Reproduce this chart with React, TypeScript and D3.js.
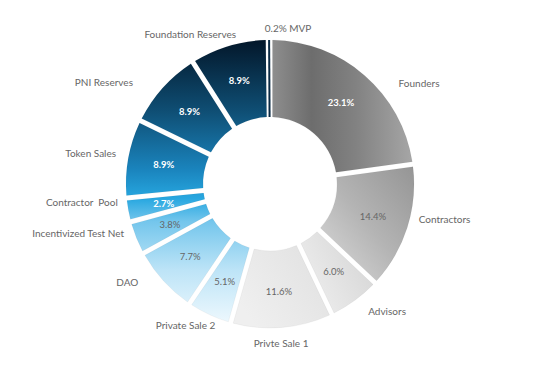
import React from 'react';
import * as d3 from 'd3';

const categories = ['Founders', 'Contractors', 'Advisors', 'Privte Sale 1', 'Private Sale 2', 'DAO', 'Incentivized Test Net', 'Contractor  Pool', 'Token Sales', 'PNI Reserves', 'Foundation Reserves', 'MVP'];
const shares = [23.1, 14.4, 6.0, 11.6, 5.1, 7.7, 3.8, 2.7, 8.9, 8.9, 8.9, 0.2];
const valueLabels = ['23.1%', '14.4%', '6.0%', '11.6%', '5.1%', '7.7%', '3.8%', '2.7%', '8.9%', '8.9%', '8.9%', '0.2%'];
const darkSlices = ['Founders', 'Contractor  Pool', 'Token Sales', 'PNI Reserves', 'Foundation Reserves'];
const blueSlices = ['Private Sale 2', 'DAO', 'Incentivized Test Net', 'Contractor  Pool', 'Token Sales', 'PNI Reserves', 'Foundation Reserves', 'MVP'];

// layout of outside labels: polar angle (deg from top, clockwise) and radius
const labelAngles = [55.9, 101.3, 137.4, 176, 211, 235.6, 255.7, 264.5, 279.8, 301.6, 332, 6.6];
const labelRadii = [180, 178, 173, 159, 164, 173, 198, 189, 182, 195, 170, 157];

const W = 554, H = 365;
const cx = 270, cy = 184;
const rOuter = 144, rInner = 67;
const gap = 5;

const grayGrads: Record<string, { x1: number; y1: number; x2: number; y2: number; stops: [number, string][] }> = {
  'Founders': { x1: 0, y1: 0, x2: 1, y2: 0, stops: [[0, '#8e8e8e'], [0.28, '#6d6d6d'], [0.6, '#828282'], [1, '#a6a6a6']] },
  'Contractors': { x1: 1, y1: 0, x2: 0, y2: 1, stops: [[0, '#959595'], [0.5, '#b4b4b4'], [1, '#dcdcdc']] },
  'Advisors': { x1: 1, y1: 0, x2: 0, y2: 0.6, stops: [[0, '#d2d2d2'], [1, '#ededed']] },
  'Privte Sale 1': { x1: 1, y1: 0, x2: 0, y2: 0.6, stops: [[0, '#e0e0e0'], [1, '#efefef']] },
};

export default function App() {
  const pie = d3.pie<number>().value(d => d).sort(null).startAngle(0).endAngle(2 * Math.PI);
  const arcs = pie(shares);
  const arcGen = d3.arc<d3.PieArcDatum<number>>()
    .innerRadius(rInner).outerRadius(rOuter)
    .padAngle(gap / 100).padRadius(100);
  const centroidR = 108;
  const polar = (a: number, r: number) => [Math.sin(a) * r, -Math.cos(a) * r];

  return (
    <svg width={W} height={H} style={{ position: 'absolute', left: 0, top: 0, background: '#fff' }}>
      <defs>
        <linearGradient id="blueGrad" gradientUnits="userSpaceOnUse" x1={0} y1={-rOuter} x2={0} y2={rOuter}>
          <stop offset="0" stopColor="#03172a" />
          <stop offset="0.25" stopColor="#0f4f75" />
          <stop offset="0.45" stopColor="#1a84bd" />
          <stop offset="0.55" stopColor="#27a7e0" />
          <stop offset="0.63" stopColor="#74c6ec" />
          <stop offset="0.8" stopColor="#bde4f7" />
          <stop offset="1" stopColor="#f2fafe" />
        </linearGradient>
        {Object.entries(grayGrads).map(([k, g]) => (
          <linearGradient key={k} id={`gray${categories.indexOf(k)}`} x1={g.x1} y1={g.y1} x2={g.x2} y2={g.y2}>
            {g.stops.map(([o, c], j) => <stop key={j} offset={o} stopColor={c} />)}
          </linearGradient>
        ))}
      </defs>
      <g transform={`translate(${cx},${cy})`}>
        {arcs.map((a, i) => {
          const name = categories[i];
          const fill = blueSlices.includes(name) ? 'url(#blueGrad)' : `url(#gray${i})`;
          const span = a.endAngle - a.startAngle;
          if (span * rInner < gap + 1) {
            const mid = (a.startAngle + a.endAngle) / 2;
            const [x1, y1] = polar(mid, rInner);
            const [x2, y2] = polar(mid, rOuter);
            return <line key={i} x1={x1} y1={y1} x2={x2} y2={y2} stroke="#0a2a44" strokeWidth={2} />;
          }
          return <path key={i} d={arcGen(a) || ''} fill={fill} stroke="rgba(0,0,0,0.08)" strokeWidth={0.5} />;
        })}
        {arcs.map((a, i) => {
          const name = categories[i];
          const span = a.endAngle - a.startAngle;
          if (span * rInner < gap + 1) return null;
          const mid = (a.startAngle + a.endAngle) / 2;
          const [x, y] = polar(mid, centroidR);
          const dark = darkSlices.includes(name);
          return (
            <text key={'v' + i} x={x} y={y} textAnchor="middle" dominantBaseline="central"
              fontFamily="Lato" fontSize={9.5} fontWeight={dark ? 'bold' : 'normal'} fill={dark ? '#ffffff' : '#666666'}>
              {valueLabels[i]}
            </text>
          );
        })}
        {arcs.map((a, i) => {
          const name = categories[i];
          const span = a.endAngle - a.startAngle;
          const tiny = span * rInner < gap + 1;
          const ang = (labelAngles[i] * Math.PI) / 180;
          const [x, y] = polar(ang, labelRadii[i]);
          return (
            <text key={'l' + i} x={x} y={y} textAnchor="middle" dominantBaseline="central"
              fontFamily="Lato" fontSize={10} fill="#666666" style={{ whiteSpace: 'pre' }}>
              {tiny ? `${valueLabels[i]} ${name}` : name}
            </text>
          );
        })}
      </g>
    </svg>
  );
}
